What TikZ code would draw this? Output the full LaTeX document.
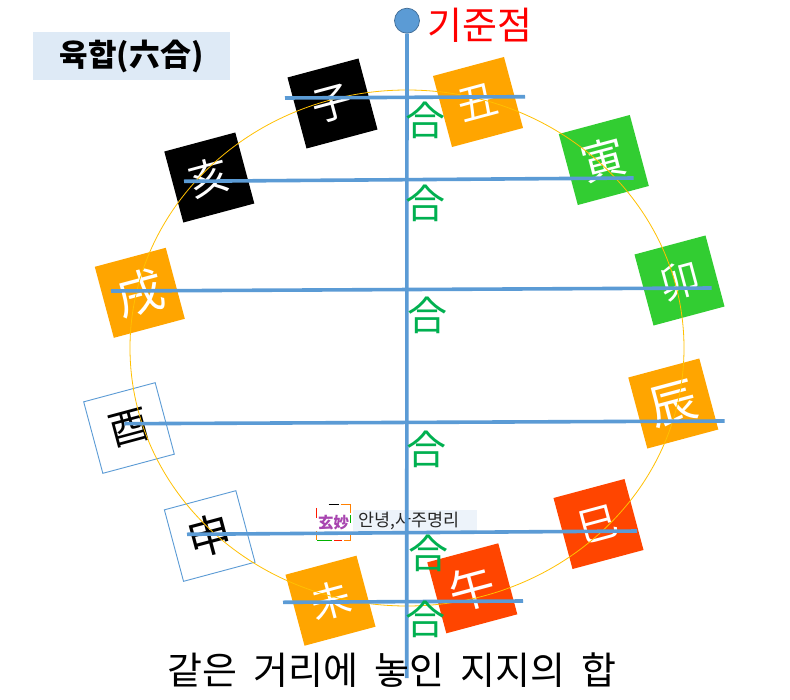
\documentclass[tikz,border=0pt]{standalone}
\usepackage{fontspec}
\usetikzlibrary{shapes.geometric}
\setmainfont{Noto Sans CJK KR}
\definecolor{lineblue}{HTML}{5B9BD5}
\definecolor{hapgreen}{HTML}{00B050}
\definecolor{orangebox}{HTML}{FFA500}
\definecolor{redbox}{HTML}{FF4500}
\definecolor{greenbox}{HTML}{32CD32}
\definecolor{titlebg}{HTML}{DEEAF6}
\definecolor{notebg}{HTML}{EDF3FA}
\definecolor{ringcol}{HTML}{FFC000}
\definecolor{badgetext}{HTML}{A845B0}
\tikzset{
  x=1pt,y=-1pt,
  branch/.style={minimum size=73.5pt,inner sep=0pt,rotate=15,font=\fontsize{40}{40}\selectfont,text=white},
  bigglyph/.style={font=\fontsize{48}{48}\selectfont},
  orangeb/.style={branch,fill=orangebox},
  redb/.style={branch,fill=redbox},
  greenb/.style={branch,fill=greenbox},
  blackb/.style={branch,fill=black},
  whiteb/.style={branch,draw=lineblue,line width=0.9pt,text=black,fill=white,minimum size=74pt},
  tie/.style={line width=3.6pt,draw=lineblue},
  hap/.style={text=hapgreen,font=\fontsize{40}{40}\selectfont,inner sep=0pt},
  badgeedge/.style={line width=1.3pt},
}
\newcommand{\gapword}{\hspace{7.5pt}}
\begin{document}
\begin{tikzpicture}
\useasboundingbox (0,0) rectangle (790,699);
\fill[white] (0,0) rectangle (790,699);
\node[fill=titlebg,minimum width=197pt,minimum height=48pt,inner sep=0pt,font=\bfseries\fontsize{31}{31}\selectfont] (title) at (131.5,56) {육합(六合)};
\node[orangeb] (chou) at (478,102) {丑};
\node[blackb] (zi) at (332.5,103.5) {子};
\node[blackb] (hai) at (209.3,177.5) {亥};
\node[orangeb,bigglyph] (xu) at (139.8,292.8) {戌};
\node[greenb,font=\fontsize{44}{44}\selectfont] (yin) at (603.8,160) {寅};
\node[greenb] (mao) at (679.5,280.5) {卯};
\node[orangeb,bigglyph] (chen) at (673.3,403.5) {辰};
\node[redb] (si) at (598.5,524) {巳};
\node[redb,font=\fontsize{46}{46}\selectfont] (wu) at (472.3,588.3) {午};
\node[orangeb] (wei) at (330.5,600.7) {未};
\node[whiteb,font=\fontsize{44}{44}\selectfont] (shen) at (209.7,536) {申};
\node[whiteb] (you) at (129,428) {酉};
\node[draw=ringcol,line width=0.8pt,ellipse,minimum width=554pt,minimum height=516pt,inner sep=0pt] (ring) at (407,348) {};
% small badge
\node[fill=notebg,minimum width=124pt,minimum height=21pt,inner sep=0pt] (notebox) at (415,520) {};
\node[font=\fontsize{17.4}{17.4}\selectfont,text=black!85] (note) at (409,521) {안녕,사주명리};
\node[minimum width=33pt,minimum height=35pt,inner sep=0pt,text=badgetext,font=\bfseries\fontsize{15.5}{15.5}\selectfont] (badge) at (333.5,522.5) {玄妙};
\draw[badgeedge,black] ([xshift=-5pt]badge.north) -- ([xshift=5pt]badge.north);
\draw[badgeedge,orange] ([xshift=7pt]badge.north) -- (badge.north east) -- ([yshift=-8pt]badge.north east);
\draw[badgeedge,green!70!black] ([yshift=-10pt]badge.north east) -- ([yshift=-18pt]badge.north east);
\draw[badgeedge,orange] ([yshift=8pt]badge.south east) -- (badge.south east) -- ([xshift=-6pt]badge.south east);
\draw[badgeedge,red!80!orange] ([xshift=-8pt]badge.south east) -- ([xshift=-16pt]badge.south east);
\draw[badgeedge,green!70!black] ([xshift=-18pt]badge.south east) -- (badge.south west);
\draw[badgeedge,orange] (badge.south west) -- ([yshift=9pt]badge.south west);
\draw[badgeedge,red!80!orange] ([yshift=-3pt]badge.north west) -- ([yshift=-13pt]badge.north west);
% connectors
\node[circle,fill=lineblue,draw=lineblue!70!black,line width=0.7pt,minimum size=25pt,inner sep=0pt] (base) at (407,20.7) {};
\coordinate (bottom) at (406.7,678);
\draw[tie] (base) -- (bottom);
\coordinate (a1) at (285,98); \coordinate (b1) at (525,96.7);
\coordinate (a2) at (184,181.3); \coordinate (b2) at (633.7,178);
\coordinate (a3) at (111,291); \coordinate (b3) at (711.7,288);
\coordinate (a4) at (124.3,423.7); \coordinate (b4) at (724.7,421);
\coordinate (a5) at (187,534.3); \coordinate (b5) at (637,531);
\coordinate (a6) at (283,602.3); \coordinate (b6) at (523,601);
\foreach \i in {1,...,6} \draw[tie] (a\i) -- (b\i);
\node[text=red,anchor=west,inner sep=0pt,font=\fontsize{38}{38}\selectfont] (ref) at (427,25) {기준점};
\node[hap] (h1) at (425,120) {合};
\node[hap] (h2) at (425,203) {合};
\node[hap] (h3) at (427,315) {合};
\node[hap] (h4) at (426,449) {合};
\node[hap] (h5) at (428,553) {合};
\node[hap] (h6) at (425,619) {合};
\node[font=\fontsize{38}{38}\selectfont,inner sep=0pt] (caption) at (392,670) {같은\gapword{} 거리에\gapword{} 놓인\gapword{} 지지의\gapword{} 합};
\end{tikzpicture}
\end{document}
